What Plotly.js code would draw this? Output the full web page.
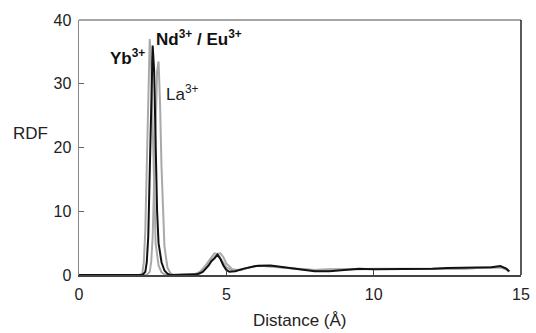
<!DOCTYPE html>
<html>
<head>
<meta charset="utf-8">
<script src="https://cdn.plot.ly/plotly-3.0.1.min.js"></script>
<style>html,body{margin:0;padding:0;background:#fff;}#chart{width:536px;height:333px;}</style>
</head>
<body>
<div id="chart"></div>
<script>
// Yb3+ (grey)
const ybX = [0, 2.05, 2.15, 2.2, 2.25, 2.3, 2.35, 2.4, 2.45, 2.5, 2.55, 2.6, 2.7, 2.8, 2.9, 3.0, 3.2, 3.6, 3.9, 4.1, 4.3, 4.5, 4.6, 4.7, 4.8, 5.0, 5.2, 5.5, 5.8, 6.1, 6.5, 7, 7.5, 8, 8.5, 9, 9.5, 10, 10.5, 11, 11.5, 12, 12.5, 13, 13.5, 14, 14.3, 14.5, 14.6];
const ybY = [0, 0, 0.3, 2, 7, 18, 30, 37, 33, 22, 11, 5, 1.5, 0.4, 0.1, 0, 0, 0, 0.1, 0.5, 1.5, 2.8, 3.4, 3.3, 2.6, 1.2, 0.7, 0.8, 1.2, 1.5, 1.3, 1.1, 0.9, 0.8, 0.9, 0.9, 0.9, 1.0, 1.0, 1.0, 1.0, 1.0, 1.0, 1.0, 1.1, 1.1, 1.2, 0.9, 0.5];
// Nd3+ / Eu3+ (black)
const ndX = [0, 2.15, 2.25, 2.3, 2.35, 2.4, 2.45, 2.5, 2.55, 2.6, 2.65, 2.7, 2.8, 2.9, 3.0, 3.1, 3.3, 3.7, 4.0, 4.2, 4.4, 4.5, 4.6, 4.7, 4.8, 4.9, 5.0, 5.1, 5.3, 5.6, 6.0, 6.5, 7, 7.5, 8, 8.5, 9, 9.5, 10, 10.5, 11, 11.5, 12, 12.5, 13, 13.5, 14, 14.3, 14.5, 14.6];
const ndY = [0, 0, 0.5, 2, 6, 15, 28, 36, 32, 20, 10, 5, 2, 0.7, 0.2, 0, 0, 0, 0.1, 0.5, 1.5, 2.2, 2.6, 3.2, 2.5, 1.5, 0.8, 0.5, 0.6, 1.0, 1.4, 1.5, 1.2, 0.9, 0.6, 0.6, 0.8, 1.0, 0.9, 0.9, 1.0, 0.9, 1.0, 1.1, 1.1, 1.2, 1.2, 1.4, 1.0, 0.6];
// La3+ (grey)
const laX = [0, 2.3, 2.4, 2.45, 2.5, 2.55, 2.6, 2.65, 2.7, 2.75, 2.8, 2.85, 2.9, 3.0, 3.1, 3.2, 3.4, 3.8, 4.1, 4.3, 4.5, 4.7, 4.8, 4.9, 5.0, 5.2, 5.4, 5.7, 6.0, 6.3, 6.7, 7, 7.5, 8, 8.5, 9, 9.5, 10, 10.5, 11, 11.5, 12, 12.5, 13, 13.5, 14, 14.3, 14.5, 14.6];
const laY = [0, 0, 0.5, 2, 6, 14, 25, 32, 33.5, 27, 17, 9, 4.5, 1.2, 0.3, 0, 0, 0, 0.2, 1.0, 2.4, 3.3, 3.4, 2.8, 1.8, 0.9, 0.8, 1.1, 1.4, 1.5, 1.3, 1.1, 0.9, 0.8, 0.8, 0.9, 0.9, 1.0, 1.0, 1.0, 0.9, 1.0, 1.0, 1.0, 1.1, 1.1, 1.2, 0.9, 0.5];

const xTicks = [0, 5, 10, 15];
const yTicks = [0, 10, 20, 30, 40];

const grey = '#a9a9a9';
const traces = [
  {x: ybX, y: ybY, mode: 'lines', line: {color: grey, width: 2}, name: 'Yb3+'},
  {x: laX, y: laY, mode: 'lines', line: {color: grey, width: 2}, name: 'La3+'},
  {x: ndX, y: ndY, mode: 'lines', line: {color: '#111', width: 2}, name: 'Nd3+ / Eu3+'}
];

const layout = {
  width: 536, height: 333,
  margin: {l: 79, r: 15, t: 20, b: 58},
  paper_bgcolor: '#fff', plot_bgcolor: '#fff',
  showlegend: false,
  font: {family: 'Liberation Sans, Arial, sans-serif', color: '#222', size: 16},
  xaxis: {
    range: [0, 15], tickvals: xTicks, ticktext: xTicks.map(String),
    ticks: 'inside', ticklen: 5, tickcolor: '#444', showgrid: false, zeroline: false,
    showline: true, linecolor: '#444', linewidth: 1.5, ticklabelstandoff: 4,
    tickfont: {size: 16, color: '#222'}
  },
  yaxis: {
    range: [0, 40], tickvals: yTicks, ticktext: yTicks.map(String),
    ticks: 'inside', ticklen: 5, tickcolor: '#666', showgrid: false, zeroline: false,
    showline: true, linecolor: '#888', linewidth: 1.5, ticklabelstandoff: 3,
    tickfont: {size: 16, color: '#222'}
  },
  shapes: [
    {type: 'line', xref: 'paper', yref: 'paper', x0: 0, x1: 1, y0: 1, y1: 1, line: {color: '#888', width: 1.5}},
    {type: 'line', xref: 'paper', yref: 'paper', x0: 1, x1: 1, y0: 0, y1: 1, line: {color: '#222', width: 1.5}}
  ],
  annotations: [
    {x: 0.98, y: 34.2, xref: 'x', yref: 'y', text: '<b>Yb<sup>3+</sup></b>', showarrow: false, xanchor: 'left', yanchor: 'middle', font: {size: 17, color: '#111'}},
    {x: 2.55, y: 37.2, xref: 'x', yref: 'y', text: '<b>Nd<sup>3+</sup> / Eu<sup>3+</sup></b>', showarrow: false, xanchor: 'left', yanchor: 'middle', font: {size: 17, color: '#111'}},
    {x: 2.88, y: 28.6, xref: 'x', yref: 'y', text: 'La<sup>3+</sup>', showarrow: false, xanchor: 'left', yanchor: 'middle', font: {size: 17, color: '#222'}},
    {x: 30, y: 133, xref: 'paper', yref: 'paper', text: 'RDF', showarrow: false, xanchor: 'center', yanchor: 'middle', font: {size: 17, color: '#222'}},
    {x: 300, y: 320, xref: 'paper', yref: 'paper', text: 'Distance (Å)', showarrow: false, xanchor: 'center', yanchor: 'middle', font: {size: 17, color: '#222'}}
  ]
};
// convert pixel-positioned labels to paper coordinates
const pw = 536 - 79 - 15, ph = 333 - 20 - 58;
layout.annotations.forEach(a => {
  if (a.xref === 'paper') { a.x = (a.x - 79) / pw; a.y = (333 - 58 - a.y) / ph; }
});

Plotly.newPlot('chart', traces, layout, {displayModeBar: false, staticPlot: true});
</script>
</body>
</html>
